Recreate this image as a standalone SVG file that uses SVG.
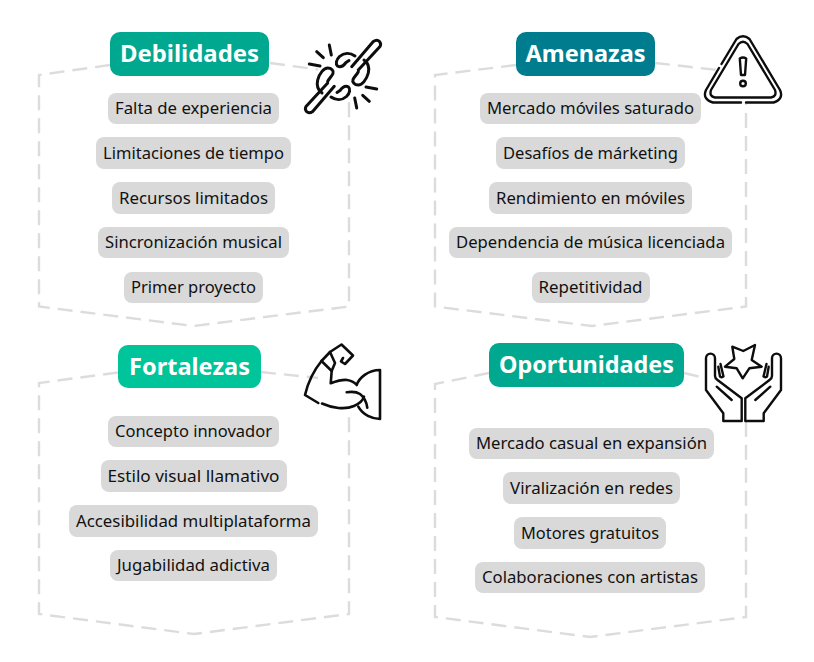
<svg xmlns="http://www.w3.org/2000/svg" width="814" height="662" viewBox="0 0 814 662">
<style>
.frame{fill:none;stroke:#dcdcdc;stroke-width:2.4;stroke-dasharray:15 8}
.head{font:700 23.5px "Noto Sans",sans-serif;fill:#fff;text-anchor:middle}
.item{font:400 16.6px "Noto Sans",sans-serif;fill:#111;text-anchor:middle}
.pill{fill:#d9d9d9}
.ic{fill:none;stroke:#0d0d0d;stroke-width:2.6;stroke-linecap:round;stroke-linejoin:round}
</style>
<defs>
<g id="chainhalf">
<path d="M351.700 66.700L373.300 41.500Q377 39 379.500 41.500Q381.500 44 380 46.500L358.300 70"/>
<path d="M355 56C350 52.500 344 52.500 339.500 56.500C336 60 335.500 64 337.500 66C340 67.500 343 66.500 346 62.500L349 60.500"/>
<path d="M364 60C368 63 369.500 68 368.300 73C366.500 80 362 85 358.300 85C354.500 85 352 82 353 79.500C354 77 356.500 75 358.300 71.700"/>
<path d="M329.300 45L331.300 55M316.700 51.700L323.300 57.700M309.300 64L320 66"/>
</g>
<g id="hand">
<path d="M741.700 398.300V421H723.300V413.300L706 390V358.300C706 352 715 352 715 358.300V376C715 378 716 379 717.500 380L741.700 398.300"/>
<path d="M718.300 366.700L720 376.500Q722 378 723.500 376.500L720.500 364"/>
<path d="M716.700 386.700L731.700 400"/>
</g>
</defs>
<rect width="814" height="662" fill="#fff"/>
<g id="connectors">
<path class="frame" d="M110 65L39 75V306.500L193.500 326L349 306.500V100M270 63L318 69.500"/>
<path class="frame" d="M516 65L435 75V306.500L592 326L746 306.500V103M655 63L718 70"/>
<path class="frame" d="M118 372.500L39 383V614L194 634L349 614V411M261 372L318 378"/>
<path class="frame" d="M489 373L435 384V617L590 637L746 617V421M684 373L705 378"/>
</g>
<g id="debilidades">
<rect x="110" y="32" width="159" height="44" rx="10" fill="#00a88f"/><text class="head" x="189.500" y="62" textLength="139" lengthAdjust="spacingAndGlyphs">Debilidades</text>
<rect x="108" y="93" width="171" height="31" rx="8" class="pill"/><text class="item" x="193.500" y="114" textLength="157" lengthAdjust="spacingAndGlyphs">Falta de experiencia</text>
<rect x="96" y="137" width="195" height="32" rx="8" class="pill"/><text class="item" x="193.500" y="159" textLength="181" lengthAdjust="spacingAndGlyphs">Limitaciones de tiempo</text>
<rect x="112" y="182" width="163" height="32" rx="8" class="pill"/><text class="item" x="193.500" y="204" textLength="149" lengthAdjust="spacingAndGlyphs">Recursos limitados</text>
<rect x="98" y="227" width="191" height="31" rx="8" class="pill"/><text class="item" x="193.500" y="248" textLength="177" lengthAdjust="spacingAndGlyphs">Sincronización musical</text>
<rect x="124" y="272" width="139" height="31" rx="8" class="pill"/><text class="item" x="193.500" y="293" textLength="125" lengthAdjust="spacingAndGlyphs">Primer proyecto</text>
<g class="ic" style="stroke-width:3"><use href="#chainhalf"/><use href="#chainhalf" transform="rotate(180 343 76.500)"/></g>
</g>
<g id="amenazas">
<rect x="516" y="32" width="139" height="44" rx="10" fill="#007c8f"/><text class="head" x="585.500" y="62" textLength="120" lengthAdjust="spacingAndGlyphs">Amenazas</text>
<rect x="480" y="93" width="221" height="31" rx="8" class="pill"/><text class="item" x="590.500" y="114" textLength="207" lengthAdjust="spacingAndGlyphs">Mercado móviles saturado</text>
<rect x="496" y="137" width="189" height="32" rx="8" class="pill"/><text class="item" x="590.500" y="159" textLength="175" lengthAdjust="spacingAndGlyphs">Desafíos de márketing</text>
<rect x="489" y="182" width="203" height="32" rx="8" class="pill"/><text class="item" x="590.500" y="204" textLength="189" lengthAdjust="spacingAndGlyphs">Rendimiento en móviles</text>
<rect x="449" y="227" width="283" height="31" rx="8" class="pill"/><text class="item" x="590.500" y="248" textLength="269" lengthAdjust="spacingAndGlyphs">Dependencia de música licenciada</text>
<rect x="532" y="272" width="118" height="31" rx="8" class="pill"/><text class="item" x="590.500" y="293" textLength="104" lengthAdjust="spacingAndGlyphs">Repetitividad</text>
<g class="ic" style="stroke-width:2.4"><path d="M721.500 64L736.500 39Q743 33.500 749.500 39L780 90Q784 99 773.500 102.500H746M741 102.500H713Q702 99 706 90L719 68"/><path d="M738.500 44Q743 39.500 747.500 44L775 90Q777 96.500 771 97.500H715Q709 96.500 711 90z"/><path d="M739.800 58.500Q743 56.500 746.200 58.500L745 75H741z"/><circle cx="743" cy="83.500" r="2.800"/></g>
</g>
<g id="fortalezas">
<rect x="118" y="345" width="143" height="43" rx="10" fill="#00c49a"/><text class="head" x="189.500" y="375" textLength="121" lengthAdjust="spacingAndGlyphs">Fortalezas</text>
<rect x="108" y="416" width="171" height="31" rx="8" class="pill"/><text class="item" x="193.500" y="437" textLength="157" lengthAdjust="spacingAndGlyphs">Concepto innovador</text>
<rect x="101" y="460" width="186" height="32" rx="8" class="pill"/><text class="item" x="193.500" y="482" textLength="172" lengthAdjust="spacingAndGlyphs">Estilo visual llamativo</text>
<rect x="69" y="505" width="249" height="32" rx="8" class="pill"/><text class="item" x="193.500" y="527" textLength="235" lengthAdjust="spacingAndGlyphs">Accesibilidad multiplataforma</text>
<rect x="110" y="550" width="167" height="31" rx="8" class="pill"/><text class="item" x="193.500" y="571" textLength="153" lengthAdjust="spacingAndGlyphs">Jugabilidad adictiva</text>
<g class="ic"><path d="M330 352L341.500 344.500L353 355.500L345 364L341 361.500L343 358"/><path d="M330 352L321.500 361L331.700 371L335 363L330 352"/><path d="M321.500 361C315 369 308 382 305 395L318.300 403"/><path d="M331.700 371L330.700 383.300C337 381 343 379.500 347 380C351 380.500 354 382 356.700 385C359 378 368 370 380 370V419C372 419 363 415 358.300 406.700"/><path d="M322 403.500C332 408 345 410 354 406C360 403.500 363 400 364 396.700"/><path d="M346.700 392.300C352 391.500 357 392 360 394C364 397 366.500 402 367.300 407.700"/></g>
</g>
<g id="oportunidades">
<rect x="489" y="343" width="195" height="44" rx="10" fill="#00a88f"/><text class="head" x="586.500" y="373" textLength="175" lengthAdjust="spacingAndGlyphs">Oportunidades</text>
<rect x="469" y="428" width="245" height="31" rx="8" class="pill"/><text class="item" x="591.500" y="449" textLength="231" lengthAdjust="spacingAndGlyphs">Mercado casual en expansión</text>
<rect x="503" y="472" width="177" height="32" rx="8" class="pill"/><text class="item" x="591.500" y="494" textLength="163" lengthAdjust="spacingAndGlyphs">Viralización en redes</text>
<rect x="514" y="517" width="152" height="32" rx="8" class="pill"/><text class="item" x="590" y="539" textLength="138" lengthAdjust="spacingAndGlyphs">Motores gratuitos</text>
<rect x="475" y="562" width="230" height="31" rx="8" class="pill"/><text class="item" x="590" y="583" textLength="216" lengthAdjust="spacingAndGlyphs">Colaboraciones con artistas</text>
<g class="ic" style="stroke-width:2.4"><path d="M732.300 346.700L743.300 351L755 345L751.700 360L761.700 366.700L749.300 368.300L742.700 378.300L736.700 368.300L725 366.700L734.300 359z"/><use href="#hand"/><use href="#hand" transform="matrix(-1 0 0 1 1487 0)"/></g>
</g>
</svg>
